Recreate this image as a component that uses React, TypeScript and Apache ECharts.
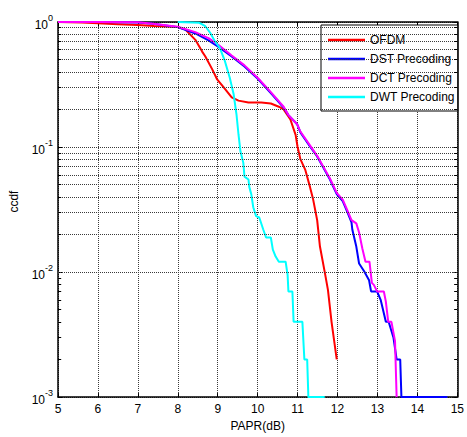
import React, { useEffect, useRef } from "react";
import * as echarts from "echarts";

// PAPR threshold (dB) and CCDF values for each scheme
const ofdmPapr = [5, 5.6, 6, 6.5, 7, 7.4, 8.0, 8.19, 8.44, 8.61, 8.69, 8.86, 8.98, 9.15, 9.35, 9.52, 9.77, 10.09, 10.33, 10.53, 10.65, 10.82, 10.95, 11.0, 11.07, 11.19, 11.31, 11.39, 11.49, 11.56, 11.68, 11.76, 11.85, 11.98];
const ofdmCcdf = [1, 0.99, 0.975, 0.96, 0.945, 0.93, 0.91, 0.87, 0.72, 0.58, 0.53, 0.42, 0.35, 0.30, 0.25, 0.235, 0.227, 0.227, 0.223, 0.21, 0.20, 0.166, 0.125, 0.10, 0.08, 0.066, 0.048, 0.038, 0.026, 0.016, 0.01, 0.0072, 0.004, 0.002];

const dstPapr = [5, 6, 7, 7.38, 8.0, 8.44, 8.78, 9.03, 9.35, 9.67, 10.01, 10.33, 10.65, 10.77, 10.99, 11.07, 11.31, 11.49, 11.63, 11.81, 11.98, 12.13, 12.25, 12.35, 12.37, 12.47, 12.54, 12.67, 12.79, 12.84, 12.99, 13.08, 13.21, 13.28, 13.40, 13.48, 13.57, 13.60, 14.75];
const dstCcdf = [1, 1, 0.99, 0.967, 0.91, 0.81, 0.71, 0.63, 0.53, 0.44, 0.35, 0.27, 0.207, 0.18, 0.152, 0.131, 0.101, 0.084, 0.070, 0.055, 0.042, 0.037, 0.030, 0.025, 0.0219, 0.016, 0.0117, 0.0101, 0.0086, 0.007, 0.007, 0.006, 0.004, 0.004, 0.003, 0.002, 0.002, 0.001, 0.001];

const dctPapr = [5, 6, 7, 7.38, 8.0, 8.44, 8.78, 9.03, 9.35, 9.67, 10.01, 10.33, 10.65, 10.77, 10.99, 11.07, 11.31, 11.49, 11.63, 11.81, 11.98, 12.13, 12.25, 12.35, 12.47, 12.54, 12.62, 12.70, 12.80, 12.86, 12.91, 12.99, 13.16, 13.21, 13.27, 13.35, 13.44, 13.48];
const dctCcdf = [1, 1, 0.995, 0.97, 0.915, 0.83, 0.74, 0.65, 0.54, 0.45, 0.355, 0.275, 0.21, 0.18, 0.152, 0.133, 0.103, 0.085, 0.071, 0.056, 0.043, 0.038, 0.031, 0.026, 0.0245, 0.0207, 0.0155, 0.0121, 0.0121, 0.0082, 0.0079, 0.007, 0.007, 0.0058, 0.004, 0.004, 0.0028, 0.001];

const dwtPapr = [8.0, 8.54, 8.69, 8.81, 8.93, 9.05, 9.18, 9.30, 9.40, 9.47, 9.52, 9.57, 9.64, 9.67, 9.77, 9.79, 9.84, 9.89, 9.96, 10.04, 10.14, 10.21, 10.33, 10.38, 10.45, 10.53, 10.70, 10.75, 10.77, 10.87, 10.90, 11.12, 11.17, 11.24, 11.27, 11.68];
const dwtCcdf = [1, 0.985, 0.925, 0.82, 0.70, 0.625, 0.486, 0.36, 0.263, 0.182, 0.126, 0.092, 0.075, 0.058, 0.055, 0.048, 0.042, 0.033, 0.028, 0.0273, 0.0219, 0.0189, 0.0189, 0.0151, 0.0133, 0.0121, 0.0121, 0.0095, 0.007, 0.007, 0.004, 0.004, 0.002, 0.002, 0.001, 0.001];

const seriesNames = ["OFDM", "DST Precoding", "DCT Precoding", "DWT Precoding"];
const seriesColors = ["#ff0000", "#0000ff", "#ff00ff", "#00ffff"];

// Minor log grid lines (2..9 within each decade)
const minorGridValues = [
  0.002, 0.003, 0.004, 0.005, 0.006, 0.007, 0.008, 0.009,
  0.02, 0.03, 0.04, 0.05, 0.06, 0.07, 0.08, 0.09,
  0.2, 0.3, 0.4, 0.5, 0.6, 0.7, 0.8, 0.9,
];

const X_MIN = 5;
const X_MAX = 15;
const MINOR_TICK_LEN = 0.08; // in dB units, along the x axis

const FONT = "'Liberation Sans', Arial, sans-serif";
const GRID_COLOR = "#3a3a3a";

const zip = (xs: number[], ys: number[]) => xs.map((x, i) => [x, ys[i]]);

export default function App() {
  const ref = useRef<HTMLDivElement>(null);

  useEffect(() => {
    if (!ref.current) return;
    const chart = echarts.init(ref.current, undefined, { renderer: "svg" });
    const gridLine = { show: true, lineStyle: { color: GRID_COLOR, type: "dotted" as const, width: 1 } };
    const pairs = [
      zip(ofdmPapr, ofdmCcdf),
      zip(dstPapr, dstCcdf),
      zip(dctPapr, dctCcdf),
      zip(dwtPapr, dwtCcdf),
    ];
    // short inward minor ticks on left and right frame edges
    const minorTicks: any[] = [];
    minorGridValues.forEach((v) => {
      minorTicks.push([{ coord: [X_MIN, v] }, { coord: [X_MIN + MINOR_TICK_LEN, v] }]);
      minorTicks.push([{ coord: [X_MAX - MINOR_TICK_LEN, v] }, { coord: [X_MAX, v] }]);
    });
    chart.setOption({
      animation: false,
      backgroundColor: "#ffffff",
      textStyle: { fontFamily: FONT },
      grid: { left: 53, top: 22, right: 7, bottom: 39 },
      legend: {
        orient: "vertical",
        left: 321,
        top: 25,
        data: seriesNames,
        icon: "rect",
        itemWidth: 37,
        itemHeight: 2.5,
        itemGap: 7,
        padding: [9, 3, 8, 7],
        borderColor: "#000",
        borderWidth: 1,
        backgroundColor: "#fff",
        textStyle: { fontFamily: FONT, fontSize: 12, color: "#000" },
      },
      xAxis: [
        {
          type: "value",
          min: X_MIN,
          max: X_MAX,
          interval: 1,
          name: "PAPR(dB)",
          nameLocation: "middle",
          nameGap: 22,
          nameTextStyle: { fontFamily: FONT, fontSize: 12, color: "#000" },
          axisLine: { show: true, onZero: false, lineStyle: { color: "#000", width: 1.5 } },
          axisTick: { show: true, inside: true, length: 4, lineStyle: { color: "#000" } },
          axisLabel: { fontFamily: FONT, fontSize: 12, color: "#000", margin: 6 },
          splitLine: gridLine,
        },
        {
          type: "value",
          min: X_MIN,
          max: X_MAX,
          interval: 1,
          position: "top",
          axisLine: { show: true, onZero: false, lineStyle: { color: "#000", width: 1.5 } },
          axisTick: { show: true, inside: true, length: 4, lineStyle: { color: "#000" } },
          axisLabel: { show: false },
          splitLine: { show: false },
        },
      ],
      yAxis: [
        {
          type: "log",
          logBase: 10,
          min: 0.001,
          max: 1,
          name: "ccdf",
          nameLocation: "middle",
          nameGap: 38,
          nameTextStyle: { fontFamily: FONT, fontSize: 12, color: "#000", padding: [0, 0, 0, 16] },
          axisLine: { show: true, onZero: false, lineStyle: { color: "#000", width: 1.5 } },
          axisTick: { show: true, inside: true, length: 4, lineStyle: { color: "#000" } },
          axisLabel: {
            margin: 5,
            formatter: (v: number) => `{b|10}{e|${Math.round(Math.log10(v))}}`,
            rich: {
              b: { fontFamily: FONT, fontSize: 12, color: "#000", verticalAlign: "bottom", padding: [6, 0, 0, 0] },
              e: { fontFamily: FONT, fontSize: 9, color: "#000", verticalAlign: "top" },
            },
          },
          splitLine: gridLine,
        },
        {
          type: "log",
          logBase: 10,
          min: 0.001,
          max: 1,
          position: "right",
          axisLine: { show: true, onZero: false, lineStyle: { color: "#000", width: 1.5 } },
          axisTick: { show: true, inside: true, length: 4, lineStyle: { color: "#000" } },
          axisLabel: { show: false },
          splitLine: { show: false },
        },
      ],
      series: [
        {
          name: "minor-grid",
          type: "line",
          data: [],
          silent: true,
          z: 1,
          markLine: {
            silent: true,
            symbol: "none",
            label: { show: false },
            lineStyle: { color: GRID_COLOR, type: "dotted", width: 1 },
            data: minorGridValues.map((v) => ({ yAxis: v })),
          },
        },
        {
          name: "minor-ticks",
          type: "line",
          data: [],
          silent: true,
          z: 2,
          markLine: {
            silent: true,
            symbol: "none",
            label: { show: false },
            lineStyle: { color: "#000", type: "solid", width: 1 },
            data: minorTicks,
          },
        },
        ...seriesNames.map((name, i) => ({
          name,
          type: "line",
          data: pairs[i],
          showSymbol: false,
          symbol: "none",
          z: 3,
          color: seriesColors[i],
          lineStyle: { color: seriesColors[i], width: 2 },
        })),
      ],
    });
    return () => chart.dispose();
  }, []);

  return (
    <div
      ref={ref}
      style={{ position: "fixed", left: 0, top: 0, width: 467, height: 437, background: "#fff" }}
    />
  );
}
